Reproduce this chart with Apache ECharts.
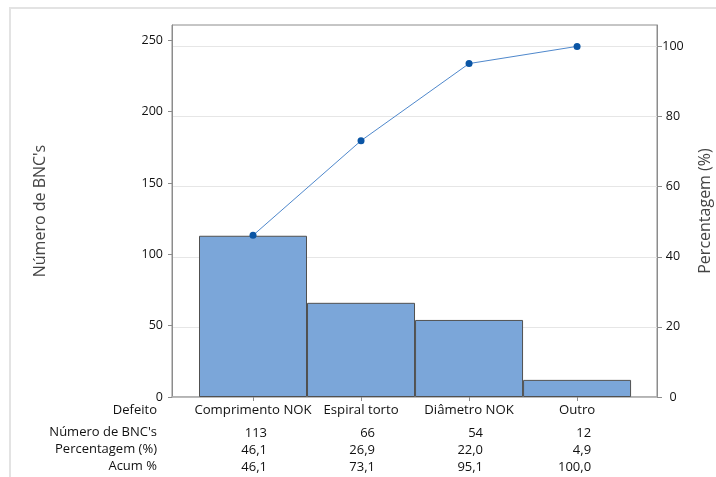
<!DOCTYPE html>
<html>
<head>
<meta charset="utf-8">
<script src="https://cdn.jsdelivr.net/npm/echarts@6/dist/echarts.min.js"></script>
<style>html,body{margin:0;padding:0;background:#fff;}#c{width:716px;height:477px;}</style>
</head>
<body>
<div id="c"></div>
<script>
var categories = ['Comprimento NOK', 'Espiral torto', 'Diâmetro NOK', 'Outro'];
var counts = [113, 66, 54, 12];
var percents = [46.1, 26.9, 22.0, 4.9];
var cumulative = [46.1, 73.1, 95.1, 100.0];
var leftTicks = [0, 50, 100, 150, 200, 250];
var rightTicks = [0, 20, 40, 60, 80, 100];
var rowHeaders = ['Defeito', "Número de BNC's", 'Percentagem (%)', 'Acum %'];

var FONT = '"Open Sans", "Noto Sans", sans-serif';
var TXT = '#111';
var idx = categories.map(function (_, i) { return i; });
var fmt = function (v) { return v.toFixed(1).replace('.', ','); };
var XMIN = -0.75, XMAX = 3.74;

function rowAxis(offset, values, formatter) {
  return {
    type: 'value', position: 'bottom', offset: offset, min: XMIN, max: XMAX,
    axisLine: { show: false }, axisTick: { show: false }, splitLine: { show: false },
    axisLabel: {
      customValues: idx, margin: 0, fontFamily: FONT, fontSize: 13, color: TXT,
      formatter: function (v) { return '{n|' + formatter(values[Math.round(v)]) + '}'; },
      rich: { n: { width: 28, align: 'right', fontFamily: FONT, fontSize: 13, color: TXT, lineHeight: 15 } }
    }
  };
}

var chart = echarts.init(document.getElementById('c'));
chart.setOption({
  backgroundColor: '#fff',
  animation: false,
  grid: { left: 172, top: 25, width: 485, height: 372, show: true, borderColor: '#8c8c8c', borderWidth: 1, outerBoundsMode: 'none', containLabel: false },
  xAxis: [
    {
      type: 'value', position: 'bottom', min: XMIN, max: XMAX,
      axisLine: { show: true, onZero: false, lineStyle: { color: '#adadad', width: 1.5 } },
      axisTick: { show: true, customValues: idx, length: 4, lineStyle: { color: '#8c8c8c' } },
      splitLine: { show: false },
      axisLabel: {
        customValues: idx, margin: 7, fontFamily: FONT, fontSize: 13.2, color: TXT,
        formatter: function (v) { return categories[Math.round(v)]; }
      }
    },
    rowAxis(29, counts, function (v) { return String(v); }),
    rowAxis(46, percents, fmt),
    rowAxis(63, cumulative, fmt)
  ],
  yAxis: [
    {
      type: 'value', position: 'left', min: 0, max: 260.7,
      axisLine: { show: true, onZero: false, lineStyle: { color: '#8c8c8c' } },
      axisTick: { show: true, customValues: leftTicks, length: 4, lineStyle: { color: '#8c8c8c' } },
      axisLabel: { customValues: leftTicks, margin: 9, fontFamily: FONT, fontSize: 12.5, color: TXT },
      splitLine: { show: false },
      name: "Número de BNC's", nameLocation: 'middle', nameGap: 124,
      nameTextStyle: { fontFamily: FONT, fontSize: 16, color: '#444' }
    },
    {
      type: 'value', position: 'right', min: 0, max: 106.1,
      axisLine: { show: true, onZero: false, lineStyle: { color: '#8c8c8c' } },
      axisTick: { show: true, customValues: rightTicks, length: 5, lineStyle: { color: '#8c8c8c' } },
      axisLabel: { customValues: rightTicks, margin: 16, align: 'center', fontFamily: FONT, fontSize: 12.5, color: TXT },
      splitLine: { show: true, lineStyle: { color: '#e6e6e6', width: 1 } },
      name: 'Percentagem (%)', nameLocation: 'middle', nameGap: 40,
      nameTextStyle: { fontFamily: FONT, fontSize: 16, color: '#444' }
    }
  ],
  series: [
    {
      type: 'bar', xAxisIndex: 0, yAxisIndex: 0, barWidth: 108,
      data: counts.map(function (v, i) { return [i, v]; }),
      itemStyle: { color: '#7ba6d9', borderColor: '#505050', borderWidth: 1 },
      z: 2
    },
    {
      type: 'line', xAxisIndex: 0, yAxisIndex: 1,
      data: cumulative.map(function (v, i) { return [i, v]; }),
      symbol: 'circle', symbolSize: 7,
      lineStyle: { color: '#4f88cc', width: 1 },
      itemStyle: { color: '#0a55a5' },
      z: 5
    }
  ],
  graphic: [
    { type: 'rect', z: -1, shape: { x: 10, y: 8, width: 780, height: 520 }, style: { fill: 'none', stroke: '#e3e3e3', lineWidth: 2 } }
  ].concat(rowHeaders.map(function (t, i) {
    var ys = [411, 433, 450, 467];
    return { type: 'text', right: 716 - 157, y: ys[i] - 7.5, style: { text: t, fontFamily: FONT, fontSize: 13, fill: TXT, textAlign: 'right' } };
  }))
});
</script>
</body>
</html>
